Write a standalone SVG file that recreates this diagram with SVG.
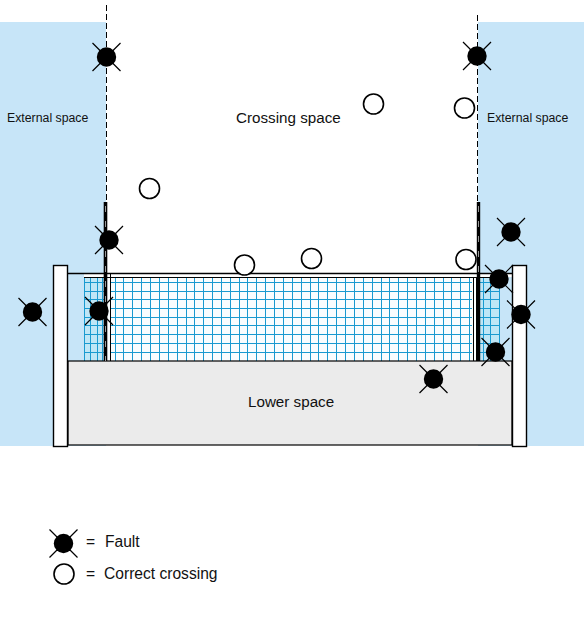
<svg xmlns="http://www.w3.org/2000/svg" width="584" height="621" viewBox="0 0 584 621">
<style>
text{font-family:"Liberation Sans",Arial,sans-serif;fill:#111}
.s{font-size:12.3px}.m{font-size:15.2px}.l{font-size:15.6px}
.f circle{fill:#000}.f path{stroke:#000;stroke-width:1.2;fill:none}
.c circle{fill:#fff;stroke:#000;stroke-width:1.6}
.g path{stroke:#1a9ad0;stroke-width:1;fill:none}
.o{fill:#fff;stroke:#000;stroke-width:1.4}
</style>
<defs>
<g id="fault" class="f"><path d="M-14-14L14 14M14-14L-14 14"/><circle r="9.7"/></g>
<g id="ok" class="c"><circle r="10"/></g>
</defs>
<g id="background">
<rect x="0" y="22" width="106" height="424" fill="#c7e5f8"/>
<rect x="478" y="22" width="106" height="424" fill="#c7e5f8"/>
</g>
<g id="net">
<rect x="84" y="277" width="22" height="84" fill="#bfe6f6"/>
<rect x="479" y="277" width="21" height="84" fill="#bfe6f6"/>
<rect x="107" y="277" width="370" height="84" fill="#f9fdfe"/>
<g class="g"><path d="M84.500 277V361M90.500 277V361M97.500 277V361M102.500 277V361M115.500 277V361M123.500 277V361M132.500 277V361M141.500 277V361M150.500 277V361M159.500 277V361M168.500 277V361M177.500 277V361M186.500 277V361M194.500 277V361M203.500 277V361M212.500 277V361M221.500 277V361M230.500 277V361M239.500 277V361M247.500 277V361M256.500 277V361M265.500 277V361M274.500 277V361M283.500 277V361M292.500 277V361M301.500 277V361M310.500 277V361M318.500 277V361M327.500 277V361M336.500 277V361M345.500 277V361M354.500 277V361M363.500 277V361M372.500 277V361M381.500 277V361M389.500 277V361M398.500 277V361M407.500 277V361M416.500 277V361M425.500 277V361M434.500 277V361M443.500 277V361M451.500 277V361M460.500 277V361M469.500 277V361M483.500 277V361M490.500 277V361M499.500 277V361"/>
<path d="M84 282.500H104M84 291.500H104M84 299.500H104M84 308.500H104M84 317.500H104M84 325.500H104M84 334.500H104M84 343.500H104M84 352.500H104M110 282.500H472M110 291.500H472M110 299.500H472M110 308.500H472M110 317.500H472M110 325.500H472M110 334.500H472M110 343.500H472M110 352.500H472M480 282.500H500M480 291.500H500M480 299.500H500M480 308.500H500M480 317.500H500M480 325.500H500M480 334.500H500M480 343.500H500M480 352.500H500"/></g>
<rect x="84" y="274" width="428" height="3" fill="#fff"/>
<path d="M84 277.500H500" stroke="#000" stroke-width="1"/>
<path d="M68 273.500H512" stroke="#000" stroke-width="1.400"/>
</g>
<g id="lower-space"><rect x="68" y="361" width="444" height="84" fill="#ebebeb" stroke="#000" stroke-width="1.200"/></g>
<g id="pillars">
<rect id="pillar-left" class="o" x="53.500" y="265.500" width="14" height="181"/>
<rect id="pillar-right" class="o" x="512.500" y="265.500" width="14" height="181"/>
</g>
<g id="connectors" fill="none" stroke="#000">
<path d="M106.500 5V202" stroke-width="1" stroke-dasharray="6 3"/>
<path d="M477.500 15V202" stroke-width="1" stroke-dasharray="6 3"/>
<path d="M105.500 202V361" stroke-width="3.600"/>
<path d="M105.500 206V361" stroke="#fff" stroke-width="0.600" stroke-dasharray="6 9"/>
<path d="M478.500 202V361" stroke-width="3.400"/>
<path d="M478.500 206V275" stroke="#fff" stroke-width="0.600" stroke-dasharray="6 9"/>
<path d="M110.500 273V361M473.500 277V361M476.500 277V361" stroke-width="1"/>
</g>
<g id="label-external-left"><text class="s" x="7" y="122">External space</text></g>
<g id="label-crossing"><text class="m" x="236" y="123">Crossing space</text></g>
<g id="label-external-right"><text class="s" x="487" y="122">External space</text></g>
<g id="label-lower"><text class="m" x="248" y="407">Lower space</text></g>
<g id="faults">
<use id="fault-1" href="#fault" x="106.500" y="57"/>
<use id="fault-2" href="#fault" x="477" y="56"/>
<use id="fault-3" href="#fault" x="109" y="240"/>
<use id="fault-4" href="#fault" x="511" y="232"/>
<use id="fault-5" href="#fault" x="499" y="279"/>
<use id="fault-6" href="#fault" x="32.500" y="312"/>
<use id="fault-7" href="#fault" x="99" y="311"/>
<use id="fault-8" href="#fault" x="521" y="314.500"/>
<use id="fault-9" href="#fault" x="495.500" y="352"/>
<use id="fault-10" href="#fault" x="433.500" y="379"/>
</g>
<g id="correct-crossings">
<use id="ok-1" href="#ok" x="373.500" y="104"/>
<use id="ok-2" href="#ok" x="464.500" y="108"/>
<use id="ok-3" href="#ok" x="149.500" y="188.500"/>
<use id="ok-4" href="#ok" x="244.500" y="265"/>
<use id="ok-5" href="#ok" x="311.500" y="258.500"/>
<use id="ok-6" href="#ok" x="466" y="259.500"/>
</g>
<g id="legend">
<use href="#fault" x="63.500" y="543.500"/>
<use href="#ok" x="64" y="574"/>
<text class="l" x="86" y="546.500">=</text>
<text class="l" x="105" y="546.500">Fault</text>
<text class="l" x="86" y="578.500">=</text>
<text class="l" x="104" y="578.500">Correct crossing</text>
</g>
</svg>
